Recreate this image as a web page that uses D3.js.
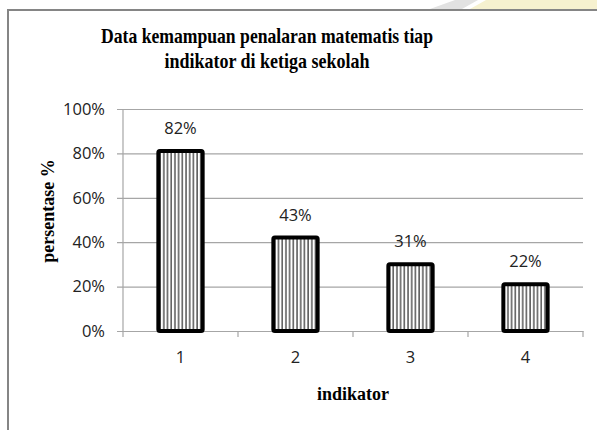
<!DOCTYPE html>
<html lang="en">
<head>
<meta charset="UTF-8">
<title>Data kemampuan penalaran matematis</title>
<script src="https://cdn.jsdelivr.net/npm/d3@7/dist/d3.min.js"></script>
<style>
    body { margin: 0; background: #fff; }
    svg { display: block; }
</style>
</head>
<body>
<script>
    // data
    const categories = ['1', '2', '3', '4']
    const values = [0.82, 0.43, 0.31, 0.22]
    const valueLabels = ['82%', '43%', '31%', '22%']
    const yTicks = [0, 0.2, 0.4, 0.6, 0.8, 1]
    const titleLines = ['Data kemampuan penalaran matematis tiap', 'indikator di ketiga sekolah']
    const titleWidths = [332, 205]

    const width = 597
    const height = 430
    const margin = { top: 109, right: 14, bottom: 99, left: 123 }

    const svg = d3.select('body').append('svg')
        .attr('width', width)
        .attr('height', height)

    // faint scan background bits at the top right
    svg.append('polygon')
        .attr('points', '430,9 455,0 478,0 462,9')
        .attr('fill', '#e2e2e2')
    svg.append('polygon')
        .attr('points', '470,9 486,0 597,0 597,9')
        .attr('fill', '#f6f1cf')

    // chart frame (cut off at right and bottom)
    svg.append('path')
        .attr('d', `M8,${height} L8,10 L${width},10`)
        .attr('fill', 'none')
        .attr('stroke', '#858585')
        .attr('stroke-width', 2)

    const defs = svg.append('defs')
    const pat = defs.append('pattern')
        .attr('id', 'vlines')
        .attr('patternUnits', 'userSpaceOnUse')
        .attr('width', 3.7)
        .attr('height', 10)
    pat.append('rect').attr('width', 3.7).attr('height', 10).attr('fill', '#fff')
    pat.append('line')
        .attr('x1', 1).attr('x2', 1).attr('y1', 0).attr('y2', 10)
        .attr('stroke', '#000').attr('stroke-width', 1)

    const x = d3.scaleBand()
        .domain(categories)
        .range([margin.left, width - margin.right])
        .paddingInner(0.58)
        .paddingOuter(0.29)

    const y = d3.scaleLinear()
        .domain([0, 1])
        .range([height - margin.bottom, margin.top])

    // y axis with gridlines
    const yAxis = d3.axisLeft(y)
        .tickValues(yTicks)
        .tickFormat(d3.format('.0%'))
        .tickSize(-(width - margin.right - margin.left + 6))
        .tickPadding(12)

    const yg = svg.append('g')
        .attr('transform', `translate(${margin.left - 6},0)`)
        .call(yAxis)
    yg.select('.domain').remove()
    yg.selectAll('.tick line').attr('stroke', '#a6a6a6').attr('stroke-width', 1.2)
    yg.selectAll('.tick text')
        .attr('x', -12)
        .attr('font-family', '"Open Sans", sans-serif')
        .attr('font-size', '16.5px')
        .attr('fill', '#222')

    svg.append('line')
        .attr('x1', margin.left).attr('x2', margin.left)
        .attr('y1', y(1)).attr('y2', y(0))
        .attr('stroke', '#a6a6a6').attr('stroke-width', 1.2)

    // x axis: labels at band centres, ticks at band edges
    const xAxis = d3.axisBottom(x).tickSize(0).tickPadding(20)
    const xg = svg.append('g')
        .attr('transform', `translate(0,${y(0)})`)
        .call(xAxis)
    xg.select('.domain').attr('stroke', '#a6a6a6').attr('stroke-width', 1.2)
    xg.selectAll('.tick text')
        .attr('font-family', '"Open Sans", sans-serif')
        .attr('font-size', '16.5px')
        .attr('fill', '#222')

    const edges = d3.range(categories.length + 1).map((i) => x.range()[0] + i * x.step())
    svg.selectAll('.edge')
        .data(edges)
        .enter()
        .append('line')
        .attr('class', 'edge')
        .attr('x1', (d) => d).attr('x2', (d) => d)
        .attr('y1', y(0)).attr('y2', y(0) + 6)
        .attr('stroke', '#a6a6a6').attr('stroke-width', 1.2)

    // bars
    svg.selectAll('.bar')
        .data(values)
        .enter()
        .append('rect')
        .attr('class', 'bar')
        .attr('x', (d, i) => x(categories[i]) + 2)
        .attr('y', (d) => y(d) + 2)
        .attr('width', x.bandwidth() - 4)
        .attr('height', (d) => y(0) - y(d) - 2)
        .attr('rx', 1.5)
        .attr('fill', 'url(#vlines)')
        .attr('stroke', '#000')
        .attr('stroke-width', 4)

    svg.selectAll('.vlabel')
        .data(values)
        .enter()
        .append('text')
        .attr('class', 'vlabel')
        .attr('x', (d, i) => x(categories[i]) + x.bandwidth() / 2)
        .attr('y', (d) => y(d) - 15)
        .attr('text-anchor', 'middle')
        .attr('font-family', '"Open Sans", sans-serif')
        .attr('font-size', '16.5px')
        .attr('fill', '#222')
        .text((d, i) => valueLabels[i])

    // title (the original face is a narrow bold serif)
    svg.selectAll('.title')
        .data(titleLines)
        .enter()
        .append('text')
        .attr('class', 'title')
        .attr('x', (d, i) => 267 - titleWidths[i] / 2)
        .attr('y', (d, i) => 43 + i * 25)
        .attr('textLength', (d, i) => titleWidths[i])
        .attr('lengthAdjust', 'spacingAndGlyphs')
        .attr('font-family', '"Liberation Serif", serif')
        .attr('font-weight', 'bold')
        .attr('font-size', '21px')
        .attr('fill', '#000')
        .text((d) => d)

    // axis titles
    svg.append('text')
        .attr('transform', 'translate(54,211) rotate(-90)')
        .attr('text-anchor', 'middle')
        .attr('font-family', '"Liberation Serif", serif')
        .attr('font-weight', 'bold')
        .attr('font-size', '18px')
        .text('persentase %')

    svg.append('text')
        .attr('x', (margin.left + width - margin.right) / 2)
        .attr('y', 400)
        .attr('text-anchor', 'middle')
        .attr('font-family', '"Liberation Serif", serif')
        .attr('font-weight', 'bold')
        .attr('font-size', '18px')
        .text('indikator')
</script>
</body>
</html>
